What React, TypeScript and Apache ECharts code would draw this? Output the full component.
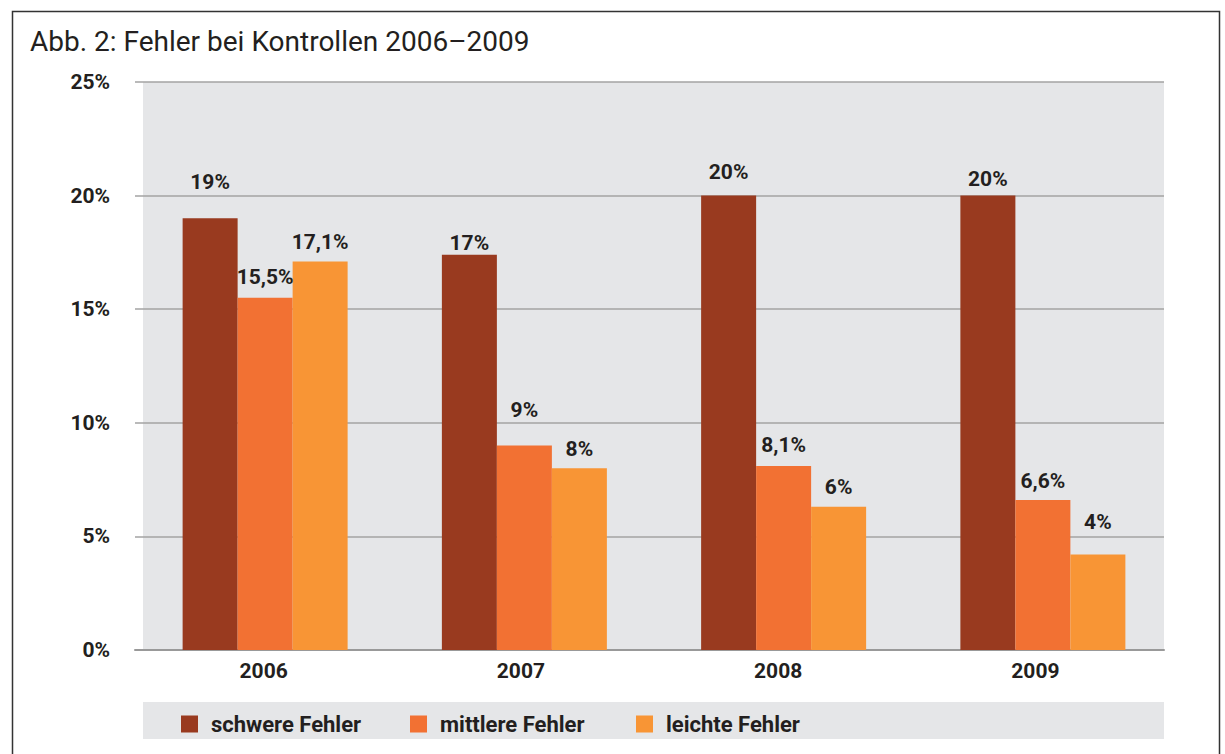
import React, { useEffect, useRef } from "react";
import * as echarts from "echarts";

const categories = ["2006", "2007", "2008", "2009"];
const seriesNames = ["schwere Fehler", "mittlere Fehler", "leichte Fehler"];
const schwere = [19, 17.4, 20, 20];
const mittlere = [15.5, 9, 8.1, 6.6];
const leichte = [17.1, 8, 6.3, 4.2];
const schwereLabels = ["19%", "17%", "20%", "20%"];
const mittlereLabels = ["15,5%", "9%", "8,1%", "6,6%"];
const leichteLabels = ["17,1%", "8%", "6%", "4%"];
const yMin = 0;
const yMax = 25;
const yStep = 5;

// label distances above bars (styling only)
const schwereLift = [26, 1, 13, 6];
const mittlereLift = [10, 25, 10, 9];
const leichteLift = [9, 9, 9, 22];

const colors = ["#993a1f", "#f27133", "#f89535"];
const FONT = "Roboto, 'DejaVu Sans', sans-serif";
const TEXT = "#231f20";

export default function App() {
  const ref = useRef<HTMLDivElement>(null);
  useEffect(() => {
    if (!ref.current) return;
    const chart = echarts.init(ref.current, null, { renderer: "svg" });
    const mk = (vals: number[], labels: string[], lift: number[]) =>
      vals.map((v, i) => ({
        value: v,
        label: { formatter: labels[i], distance: lift[i] },
      }));
    const allData = [
      mk(schwere, schwereLabels, schwereLift),
      mk(mittlere, mittlereLabels, mittlereLift),
      mk(leichte, leichteLabels, leichteLift),
    ];
    const legendLefts = [181, 410, 636];
    chart.setOption({
      animation: false,
      backgroundColor: "#ffffff",
      title: {
        text: "Abb. 2: Fehler bei Kontrollen 2006–2009",
        left: 25,
        top: 22,
        textStyle: { fontFamily: FONT, fontSize: 28, fontWeight: "normal", color: TEXT },
      },
      graphic: [
        {
          type: "rect",
          z: -10,
          shape: { x: 12.5, y: 11.5, width: 1207, height: 780 },
          style: { fill: "none", stroke: "#333333", lineWidth: 1.5 },
        },
        {
          type: "rect",
          z: -10,
          shape: { x: 143, y: 702, width: 1021, height: 37 },
          style: { fill: "#e5e6e8" },
        },
      ],
      legend: seriesNames.map((n, i) => ({
        data: [n],
        left: legendLefts[i],
        top: 713,
        padding: 0,
        itemWidth: 17,
        itemHeight: 17,
        icon: "rect",
        selectedMode: false,
        textStyle: { fontFamily: FONT, fontSize: 22, fontWeight: "bold", color: TEXT, padding: [0, 0, 0, 8] },
      })),
      grid: [
        { left: 143, top: 82, width: 1021, height: 568, show: true, backgroundColor: "#e5e6e8", borderWidth: 0 },
        { left: 135, top: 82, width: 1029, height: 568 },
        { left: 135.5, top: 82, width: 1037, height: 568 },
      ],
      xAxis: [
        { gridIndex: 0, type: "category", data: categories, show: false },
        {
          gridIndex: 1,
          type: "category",
          data: categories,
          axisLine: { show: true, lineStyle: { color: "#999999", width: 2 } },
          axisTick: { show: false },
          axisLabel: { fontFamily: FONT, fontSize: 21, fontWeight: "bold", color: TEXT, margin: 10 },
        },
        { gridIndex: 2, type: "category", data: categories, show: false },
      ],
      yAxis: [
        { gridIndex: 0, type: "value", min: yMin, max: yMax, interval: yStep, show: false },
        {
          gridIndex: 1,
          type: "value",
          min: yMin,
          max: yMax,
          interval: yStep,
          axisLine: { show: false },
          axisTick: { show: false },
          splitLine: { show: true, lineStyle: { color: "#a3a3a3", width: 1.5 } },
          axisLabel: {
            formatter: "{value}%",
            fontFamily: FONT,
            fontSize: 21,
            fontWeight: "bold",
            color: TEXT,
            margin: 25,
          },
        },
        { gridIndex: 2, type: "value", min: yMin, max: yMax, interval: yStep, show: false },
      ],
      series: seriesNames.map((n, i) => ({
        name: n,
        type: "bar",
        xAxisIndex: 2,
        yAxisIndex: 2,
        barWidth: 55,
        barGap: "0%",
        z: 5,
        itemStyle: { color: colors[i] },
        label: {
          show: true,
          position: "top",
          fontFamily: FONT,
          fontSize: 21,
          fontWeight: "bold",
          color: TEXT,
        },
        data: allData[i],
      })),
    });
    return () => chart.dispose();
  }, []);
  return (
    <div
      ref={ref}
      style={{ position: "fixed", left: 0, top: 0, width: 1225, height: 754 }}
    />
  );
}
